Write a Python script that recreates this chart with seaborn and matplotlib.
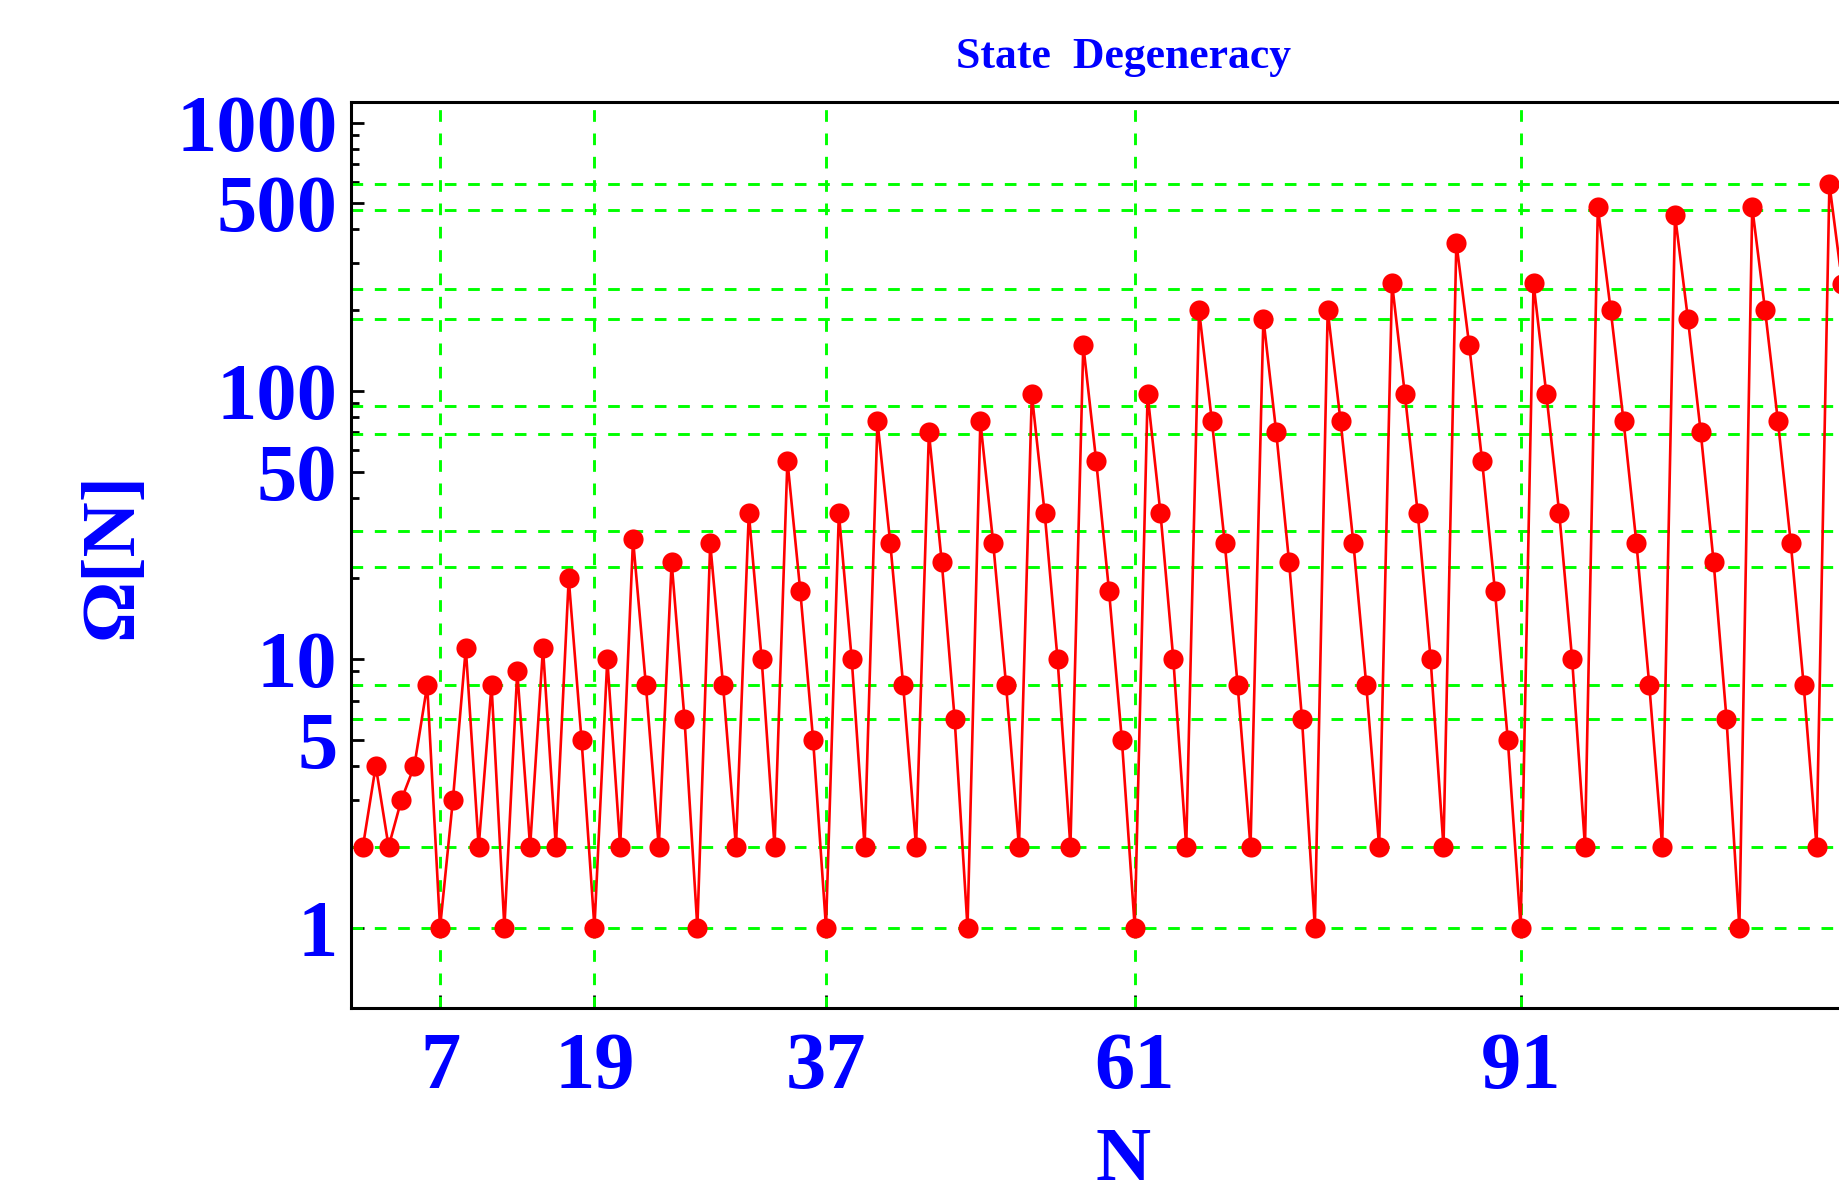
import matplotlib
matplotlib.use("Agg")
import matplotlib.pyplot as plt
import matplotlib.ticker as mticker
import pandas as pd
import seaborn as sns

# ---------------- data ----------------
n_values = list(range(1, 117))
omega_values = [
    2, 4, 2, 3, 4, 8, 1,
    3, 11, 2, 8, 1, 9, 2, 11, 2, 20, 5, 1,
    10, 2, 28, 8, 2, 23, 6, 1, 27, 8, 2, 35, 10, 2, 55, 18, 5, 1,
    35, 10, 2, 77, 27, 8, 2, 70, 23, 6, 1, 77, 27, 8, 2, 97, 35, 10, 2, 148, 55, 18, 5, 1,
    97, 35, 10, 2, 200, 77, 27, 8, 2, 186, 70, 23, 6, 1, 200, 77, 27, 8, 2, 252, 97, 35, 10, 2,
    357, 148, 55, 18, 5, 1,
    252, 97, 35, 10, 2, 483, 200, 77, 27, 8, 2, 451, 186, 70, 23, 6, 1, 483, 200, 77, 27, 8, 2,
    590, 250,
]
x_ticks = [7, 19, 37, 61, 91]
x_tick_labels = ["7", "19", "37", "61", "91"]
y_ticks = [1, 5, 10, 50, 100, 500, 1000]
y_tick_labels = ["1", "5", "10", "50", "100", "500", "1000"]
v_grid = [7, 19, 37, 61, 91, 127]
h_grid = [1, 2, 6, 8, 22, 30, 69, 88, 186, 239, 471, 588]

title_text = "State  Degeneracy"
x_label = "N"
y_label = "\u03a9[N]"

# ---------------- style ----------------
sns.set_theme(style="white")
plt.rcParams["font.family"] = ["Liberation Serif", "DejaVu Serif"]
plt.rcParams["font.weight"] = "bold"
BLUE = "#0000FF"
GREEN = "#00FF00"
RED = "#FF0000"

fig = plt.figure(figsize=(18.39, 11.98), dpi=100)
ax = fig.add_axes([0.19103, 0.15835, 0.83943, 0.75626])
ax.set_yscale("log")

for v in v_grid:
    ax.axvline(v, color=GREEN, lw=2.1, ls=(0, (4, 4)), zorder=1)
for h in h_grid:
    ax.axhline(h, color=GREEN, lw=2.1, ls=(0, (4, 4)), zorder=1)

df = pd.DataFrame({"N": n_values, "Omega": omega_values})
sns.lineplot(data=df, x="N", y="Omega", ax=ax, color=RED, lw=1.9,
             marker="o", markersize=14.5, markeredgewidth=0,
             markerfacecolor=RED, zorder=3, legend=False)

ax.set_xlim(0.1, 120.1)
ax.set_ylim(0.5, 1190)
ax.grid(False)

ax.set_xticks(x_ticks)
ax.set_xticklabels(x_tick_labels)
ax.xaxis.set_minor_locator(mticker.NullLocator())
ax.set_yticks(y_ticks)
ax.set_yticklabels(y_tick_labels)
minor = [d * m for d in [1, 10, 100] for m in [2, 3, 4, 6, 7, 8, 9]]
ax.yaxis.set_minor_locator(mticker.FixedLocator(minor))
ax.yaxis.set_minor_formatter(mticker.NullFormatter())

ax.tick_params(axis="both", which="major", direction="in", length=9.5, width=2,
               color="black", labelcolor=BLUE, labelsize=58)
ax.tick_params(axis="x", which="both", bottom=True, top=False, pad=17.0)
ax.tick_params(axis="y", which="both", left=True, right=False, pad=10.0)
ax.tick_params(axis="y", which="minor", direction="in", length=5.5, width=2,
               color="black")
for lab in ax.get_xticklabels() + ax.get_yticklabels():
    lab.set_fontweight("bold")

for s in ax.spines.values():
    s.set_linewidth(2.2)
    s.set_color("black")

ax.set_xlabel(x_label, fontsize=55, color=BLUE, fontweight="bold")
ax.xaxis.label.set_verticalalignment("bottom")
ax.xaxis.set_label_coords(0.5, -0.2075)
ax.set_ylabel(y_label, fontsize=55, color=BLUE, fontweight="bold")
ax.yaxis.set_label_coords(-0.1323, 0.5)
ax.set_title(title_text, fontsize=31.5, color=BLUE, fontweight="bold", pad=24.5)

fig.savefig("out.png", dpi=100)
